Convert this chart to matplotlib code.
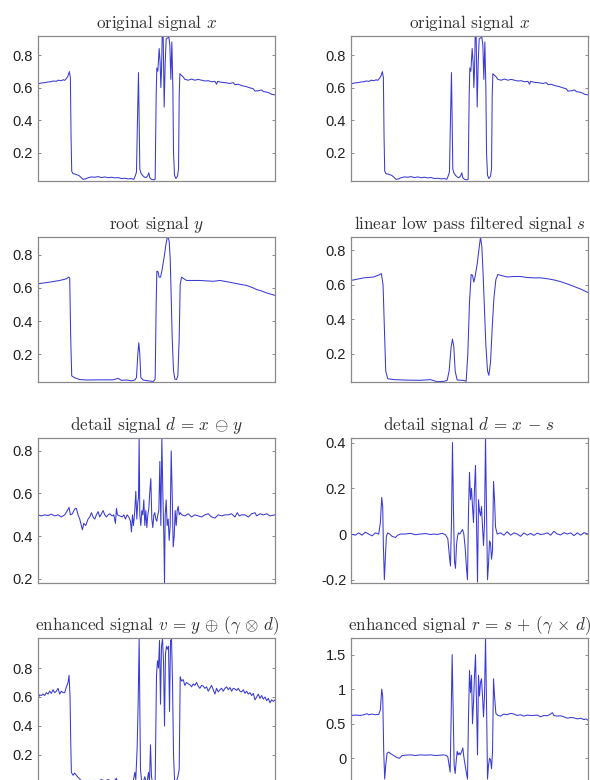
from matplotlib import pyplot as plt
from matplotlib.ticker import FuncFormatter
import numpy as np

plt.rcParams['mathtext.fontset'] = 'cm'
plt.rcParams['font.family'] = ['Liberation Sans', 'DejaVu Sans']

# original signal x  (sample, value)
x_t = [0, 5, 10, 15, 20, 22.5, 27.5, 30, 35, 37.5, 40, 42.5, 45, 47, 48.5, 49.5, 50.5, 52.5, 55, 58.5,
       61.5, 65, 67.5, 71.5, 75, 80, 85, 90, 95, 100, 105, 110, 115, 120, 125, 130, 135, 140, 143.5, 146,
       147.5, 149, 150.5, 151.5, 152.5, 154, 156.5, 159, 161.5, 164, 166, 167.5, 170, 173.5, 175.5, 177, 178, 179.5, 181.5, 183,
       184, 185, 186, 187.5, 189, 190.5, 192, 194, 196, 197.5, 199, 200.5, 202, 203, 204.5, 206.5, 209, 210.5, 211.5, 212.5,
       215, 217.5, 220, 225, 230, 235, 240, 245, 250, 255, 260, 265, 267.5, 269, 275, 280, 287.5, 292.5, 295, 300,
       305, 312.5, 317.5, 322.5, 325, 330, 335, 337.5, 342.5, 347.5, 350, 355]
x_v = [0.622, 0.628, 0.630, 0.634, 0.636, 0.640, 0.638, 0.645, 0.642, 0.648, 0.644, 0.655, 0.672, 0.698, 0.660, 0.30, 0.085, 0.070, 0.068, 0.063,
       0.058, 0.045, 0.035, 0.038, 0.045, 0.050, 0.048, 0.052, 0.046, 0.050, 0.045, 0.048, 0.044, 0.046, 0.040, 0.042, 0.038, 0.040, 0.035, 0.060,
       0.080, 0.40, 0.692, 0.40, 0.10, 0.075, 0.060, 0.050, 0.045, 0.055, 0.075, 0.045, 0.035, 0.032, 0.035, 0.55, 0.72, 0.70, 0.84, 0.75,
       0.60, 0.70, 0.91, 0.917, 0.48, 0.75, 0.90, 0.905, 0.91, 0.86, 0.65, 0.88, 0.60, 0.20, 0.060, 0.040, 0.055, 0.10, 0.55, 0.685,
       0.675, 0.665, 0.650, 0.645, 0.652, 0.645, 0.650, 0.645, 0.640, 0.642, 0.635, 0.638, 0.620, 0.638, 0.632, 0.630, 0.625, 0.630, 0.618, 0.620,
       0.612, 0.605, 0.598, 0.592, 0.578, 0.580, 0.585, 0.575, 0.572, 0.565, 0.558, 0.555]

# root signal y
y_t = [0, 17.5, 32.5, 42.5, 46, 47.5, 49, 50.5, 55, 62.5, 72.5, 92.5, 112.5, 120, 125, 132.5, 140, 145, 147.5, 149.5,
       151, 152.5, 154, 157.5, 165, 172.5, 175.5, 177, 178, 179.5, 181.5, 183.5, 185.5, 187.5, 189.5, 191.5, 193.5, 195, 196.5, 198,
       199.5, 201, 203, 205, 207.5, 209.5, 211.5, 213, 215, 222.5, 242.5, 262.5, 272.5, 282.5, 292.5, 302.5, 312.5, 322.5, 327.5, 332.5,
       342.5, 355]
y_v = [0.625, 0.635, 0.645, 0.655, 0.665, 0.66, 0.3, 0.07, 0.058, 0.048, 0.045, 0.046, 0.046, 0.055, 0.043, 0.045, 0.040, 0.045, 0.06, 0.20,
       0.27, 0.20, 0.06, 0.045, 0.040, 0.036, 0.05, 0.50, 0.70, 0.70, 0.665, 0.665, 0.70, 0.75, 0.80, 0.86, 0.90, 0.905, 0.88, 0.78,
       0.55, 0.30, 0.10, 0.050, 0.048, 0.07, 0.30, 0.62, 0.665, 0.645, 0.645, 0.640, 0.645, 0.638, 0.630, 0.622, 0.615, 0.600, 0.590, 0.585,
       0.570, 0.555]

# linear low pass filtered signal s
s_t = [0, 19, 34, 42.5, 45.5, 48, 50, 52, 55, 64, 84, 104, 119, 123, 129, 139, 144, 147, 150, 152,
       154, 156, 159, 169, 172.5, 175, 177.5, 180, 182, 184, 186, 189, 191.5, 194, 196, 198, 200, 202, 204.5, 206.5,
       209, 211.5, 214, 217, 220, 224, 234, 244, 254, 264, 274, 284, 294, 304, 314, 324, 334, 344, 355]
s_v = [0.625, 0.640, 0.645, 0.658, 0.665, 0.60, 0.35, 0.10, 0.055, 0.050, 0.047, 0.046, 0.050, 0.045, 0.038, 0.040, 0.045, 0.10, 0.24, 0.285,
       0.24, 0.10, 0.048, 0.045, 0.040, 0.20, 0.50, 0.66, 0.655, 0.615, 0.65, 0.72, 0.80, 0.877, 0.82, 0.65, 0.45, 0.25, 0.10, 0.075,
       0.15, 0.35, 0.52, 0.63, 0.66, 0.655, 0.645, 0.648, 0.648, 0.642, 0.640, 0.640, 0.635, 0.628, 0.618, 0.605, 0.590, 0.575, 0.555]

# detail signal d = x (-) y
d1_t = [0, 5, 10, 15, 20, 25, 30, 35, 40, 44, 46.5, 48.5, 51.5, 55, 57.5, 60, 62.5, 65, 66.5, 68.5,
        71.5, 75, 77.5, 80, 82.5, 85, 87.5, 90, 92.5, 95, 97.5, 100, 102.5, 105, 107.5, 111, 113.5, 116, 117.5, 119,
        122.5, 126, 128.5, 131, 133.5, 136, 138.5, 140, 141.5, 143, 145, 146.5, 148, 149.5, 150.5, 151.5, 152.5, 154, 155.5, 157,
        158.5, 160, 161.5, 163, 164.5, 166, 167.5, 169, 170.5, 172, 173.5, 175, 176.5, 178, 179.5, 181, 182.5, 184, 185.5, 187,
        188.5, 189.5, 190.5, 192, 193.5, 195, 196.5, 198, 199.5, 201, 202.5, 204, 205.5, 207, 208.5, 210, 211.5, 213, 215.5, 220,
        225, 230, 235, 240, 245, 250, 255, 260, 265, 270, 275, 280, 285, 290, 295, 298.5, 301.5, 305, 310, 315,
        320, 325, 327.5, 332.5, 337.5, 342.5, 347.5, 355]
d1_v = [0.50, 0.495, 0.50, 0.497, 0.503, 0.495, 0.50, 0.49, 0.50, 0.52, 0.535, 0.50, 0.505, 0.528, 0.53, 0.50, 0.48, 0.45, 0.43, 0.46,
        0.45, 0.48, 0.49, 0.51, 0.49, 0.48, 0.50, 0.515, 0.49, 0.505, 0.52, 0.50, 0.49, 0.50, 0.505, 0.495, 0.50, 0.46, 0.53, 0.50,
        0.495, 0.49, 0.50, 0.48, 0.50, 0.49, 0.47, 0.42, 0.50, 0.45, 0.52, 0.61, 0.48, 0.56, 0.58, 0.86, 0.50, 0.45, 0.52, 0.50,
        0.57, 0.45, 0.52, 0.44, 0.50, 0.53, 0.61, 0.67, 0.48, 0.44, 0.50, 0.51, 0.48, 0.47, 0.50, 0.52, 0.75, 0.45, 0.86, 0.60,
        0.40, 0.18, 0.50, 0.57, 0.45, 0.48, 0.38, 0.45, 0.80, 0.60, 0.35, 0.40, 0.52, 0.45, 0.52, 0.54, 0.50, 0.51, 0.50, 0.495,
        0.505, 0.49, 0.50, 0.495, 0.49, 0.50, 0.505, 0.49, 0.485, 0.50, 0.495, 0.50, 0.50, 0.505, 0.49, 0.51, 0.495, 0.50, 0.50, 0.49,
        0.505, 0.51, 0.495, 0.505, 0.50, 0.505, 0.495, 0.50]

# detail signal d = x - s
d2_t = [0, 6.5, 11.5, 16.5, 21.5, 26.5, 31.5, 36.5, 41.5, 44, 46, 47.5, 48.5, 50, 51.5, 53, 55, 58, 61.5, 66.5,
        70, 74, 81.5, 89, 96.5, 104, 111.5, 119, 124, 129, 136.5, 141.5, 145, 147.5, 149, 150.5, 152, 153.5, 155, 156.5,
        158, 159.5, 161, 163, 165, 167, 169, 171, 173, 174.5, 176, 177.5, 179, 180.5, 182, 183.5, 185, 186.5, 188, 189.5,
        191, 192.5, 194, 195.5, 197, 198.5, 200, 201.5, 203, 204.5, 206, 207.5, 209, 210.5, 212, 213.5, 215, 216.5, 219, 224,
        229, 234, 239, 244, 249, 254, 259, 264, 269, 274, 279, 284, 289, 294, 299, 304, 309, 314, 319, 324,
        329, 334, 339, 344, 349, 355]
d2_v = [0.0, -0.005, 0.005, -0.005, 0.008, 0.0, -0.008, 0.005, 0.0, 0.05, 0.16, 0.12, -0.05, -0.20, -0.10, -0.01, 0.005, 0.0, -0.01, -0.015,
        -0.005, 0.0, 0.0, 0.003, -0.003, 0.0, 0.002, -0.002, 0.0, -0.002, 0.003, -0.003, -0.02, -0.10, -0.14, 0.05, 0.40, 0.10, -0.12, -0.15,
        -0.05, -0.01, 0.005, 0.0, 0.01, 0.02, 0.0, -0.06, -0.15, -0.20, 0.10, 0.27, 0.15, 0.20, 0.12, 0.05, 0.20, 0.30, 0.05, -0.21,
        0.15, 0.10, 0.08, 0.12, 0.03, -0.05, 0.05, 0.42, 0.10, -0.20, -0.13, -0.03, -0.04, -0.11, -0.07, 0.23, 0.15, 0.03, 0.0, 0.005,
        -0.005, 0.01, -0.005, 0.005, 0.0, -0.01, 0.005, -0.005, 0.003, -0.006, 0.004, -0.002, 0.0, 0.005, -0.005, 0.012, 0.0, -0.004, 0.006, 0.0,
        0.005, -0.007, 0.005, -0.005, 0.006, 0.0]

# enhanced signal v = y (+) (gamma (x) d)
v_t = [0, 2.5, 5, 7.5, 10, 12.5, 15, 17.5, 20, 22.5, 25, 27.5, 30, 32.5, 35, 37.5, 40, 42.5, 45, 46.5,
       48, 49, 50, 52.5, 55, 57.5, 60, 62.5, 65, 70, 75, 77.5, 80, 85, 90, 95, 100, 105, 110, 115,
       117.5, 119, 122.5, 127.5, 132.5, 137.5, 142.5, 145, 146.5, 148.5, 150, 151.5, 152.5, 153.5, 155, 157.5, 160, 161.5, 163.5, 165.5,
       167, 168.5, 170, 171.5, 173.5, 175.5, 177.5, 179, 180.5, 182, 183.5, 185, 186.5, 188, 189.5, 191, 192.5, 194, 195.5, 197,
       198.5, 200, 201.5, 203, 204.5, 206, 207.5, 209.5, 211.5, 213, 215, 217.5, 220, 222.5, 225, 227.5, 230, 232.5, 235, 237.5,
       240, 242.5, 245, 247.5, 250, 252.5, 255, 257.5, 260, 262.5, 265, 267.5, 270, 272.5, 275, 277.5, 280, 282.5, 285, 287.5,
       290, 292.5, 295, 297.5, 300, 302.5, 305, 307.5, 310, 312.5, 315, 317.5, 320, 322.5, 325, 327.5, 330, 332.5, 335, 337.5,
       340, 342.5, 345, 347.5, 350, 352.5, 355]
v_v = [0.59, 0.615, 0.61, 0.62, 0.61, 0.63, 0.62, 0.64, 0.625, 0.65, 0.63, 0.64, 0.66, 0.62, 0.64, 0.63, 0.63, 0.67, 0.70, 0.75,
       0.60, 0.30, 0.08, 0.06, 0.075, 0.06, 0.045, 0.035, 0.02, 0.02, 0.015, 0.025, 0.015, 0.025, 0.02, 0.03, 0.02, 0.03, 0.02, 0.025,
       0.04, 0.015, 0.02, 0.015, 0.02, 0.01, 0.015, 0.08, 0.03, 0.25, 0.55, 1.0, 0.55, 0.10, 0.03, 0.01, 0.05, 0.02, 0.02, 0.08,
       0.01, 0.27, 0.05, 0.01, 0.005, 0.01, 0.75, 0.85, 0.80, 0.99, 0.55, 0.95, 1.0, 0.85, 0.40, 0.90, 0.95, 0.93, 0.95, 0.50,
       0.99, 1.0, 0.70, 0.20, 0.03, 0.01, 0.02, 0.05, 0.10, 0.74, 0.71, 0.72, 0.68, 0.70, 0.69, 0.685, 0.67, 0.69, 0.68, 0.70,
       0.675, 0.66, 0.68, 0.675, 0.66, 0.67, 0.64, 0.66, 0.68, 0.65, 0.62, 0.66, 0.635, 0.65, 0.66, 0.64, 0.66, 0.67, 0.65, 0.665,
       0.64, 0.66, 0.655, 0.645, 0.66, 0.64, 0.635, 0.65, 0.625, 0.64, 0.62, 0.63, 0.61, 0.625, 0.58, 0.60, 0.62, 0.59, 0.61, 0.585,
       0.60, 0.575, 0.59, 0.56, 0.58, 0.57, 0.58]

# enhanced signal r = s + (gamma x d)
r_t = [0, 6.5, 14, 19, 24, 26.5, 31.5, 36.5, 41.5, 44, 46, 47.5, 49, 50.5, 52, 54, 56.5, 59, 64, 69,
       72.5, 76.5, 81.5, 89, 96.5, 104, 111.5, 119, 126.5, 134, 139, 143, 145, 147, 148.5, 150, 151.5, 153, 154.5, 156,
       157.5, 159, 160.5, 162, 163.5, 165.5, 167.5, 169, 171, 173, 174.5, 176, 177.5, 179, 180.5, 182, 183.5, 185, 186.5, 188,
       189.5, 191, 192.5, 194, 195.5, 197, 198.5, 200, 201.5, 203, 204.5, 206, 207.5, 209, 210.5, 212, 213.5, 215, 217, 220,
       224, 229, 234, 239, 244, 249, 254, 259, 264, 269, 274, 279, 284, 289, 294, 299, 301.5, 304, 309, 314,
       319, 324, 329, 334, 339, 344, 349, 352, 355]
r_v = [0.62, 0.625, 0.62, 0.63, 0.645, 0.63, 0.64, 0.63, 0.635, 0.70, 1.0, 0.90, 0.10, -0.30, -0.10, 0.07, 0.09, 0.07, 0.04, 0.01,
       0.0, 0.04, 0.045, 0.05, 0.04, 0.05, 0.045, 0.05, 0.04, 0.045, 0.05, 0.04, 0.02, -0.10, -0.20, 0.60, 1.50, 0.70, -0.10, -0.22,
       -0.05, 0.10, 0.05, 0.08, 0.05, 0.09, 0.15, 0.02, -0.10, -0.22, -0.30, 0.60, 1.27, 0.95, 1.20, 0.50, 0.80, 1.20, 1.50, 0.80,
       0.05, 1.20, 0.90, 1.10, 1.15, 0.90, 0.60, 0.90, 1.74, 0.80, -0.30, -0.10, 0.0, -0.02, -0.15, 0.10, 1.15, 0.90, 0.65, 0.62,
       0.61, 0.64, 0.63, 0.65, 0.64, 0.62, 0.63, 0.61, 0.625, 0.62, 0.62, 0.625, 0.60, 0.62, 0.615, 0.64, 0.66, 0.62, 0.61, 0.615,
       0.60, 0.58, 0.59, 0.585, 0.57, 0.58, 0.56, 0.57, 0.55]

titles = ["original signal $x$", "original signal $x$",
          "root signal $y$", "linear low pass filtered signal $s$",
          r"detail signal $d\,=\,x\,\ominus\,y$", r"detail signal $d\,=\,x\,-\,s$",
          r"enhanced signal $v\,=\,y\,\oplus\,(\gamma\,\otimes\,d)$",
          r"enhanced signal $r\,=\,s\,+\,(\gamma\,\times\,d)$"]
ylims = [(0.028, 0.917), (0.028, 0.917),
         (0.036, 0.907), (0.039, 0.877),
         (0.183, 0.86), (-0.212, 0.42),
         (0.01, 1.007), (-0.35, 1.74)]
yticks = [[0.2, 0.4, 0.6, 0.8], [0.2, 0.4, 0.6, 0.8],
          [0.2, 0.4, 0.6, 0.8], [0.2, 0.4, 0.6, 0.8],
          [0.2, 0.4, 0.6, 0.8], [-0.2, 0, 0.2, 0.4],
          [0.2, 0.4, 0.6, 0.8], [0, 0.5, 1, 1.5]]
series = [(x_t, x_v), (x_t, x_v), (y_t, y_v), (s_t, s_v),
          (d1_t, d1_v), (d2_t, d2_v), (v_t, v_v), (r_t, r_v)]

W, H = 590.0, 780.0
col_left = [38, 351]
row_top = [36, 237, 438, 638]
ax_w, ax_h = 237, 144.5

fig = plt.figure(figsize=(5.9, 7.8), dpi=100)
for i in range(8):
    row, col = i // 2, i % 2
    ax = fig.add_axes([col_left[col] / W, (H - row_top[row] - ax_h) / H, ax_w / W, ax_h / H])
    t, v = series[i]
    ax.plot(t, v, color='#3a3ad4', lw=0.75)
    ax.set_xlim(0, 355)
    ax.set_ylim(*ylims[i])
    ax.set_xticks([])
    ax.set_yticks(yticks[i])
    ax.yaxis.set_major_formatter(FuncFormatter(lambda y, p: '%g' % y))
    ax.tick_params(axis='y', direction='in', length=2.5, width=0.6, color='#777777',
                   labelsize=10.5, labelcolor='#222222', right=True, pad=3.5)
    for sp in ax.spines.values():
        sp.set_color('#8a8a8a')
        sp.set_linewidth(0.9)
    ax.set_title(titles[i], fontsize=12.3, family='cmr10', color='#333333', pad=6)

fig.savefig('out.png', dpi=100)
